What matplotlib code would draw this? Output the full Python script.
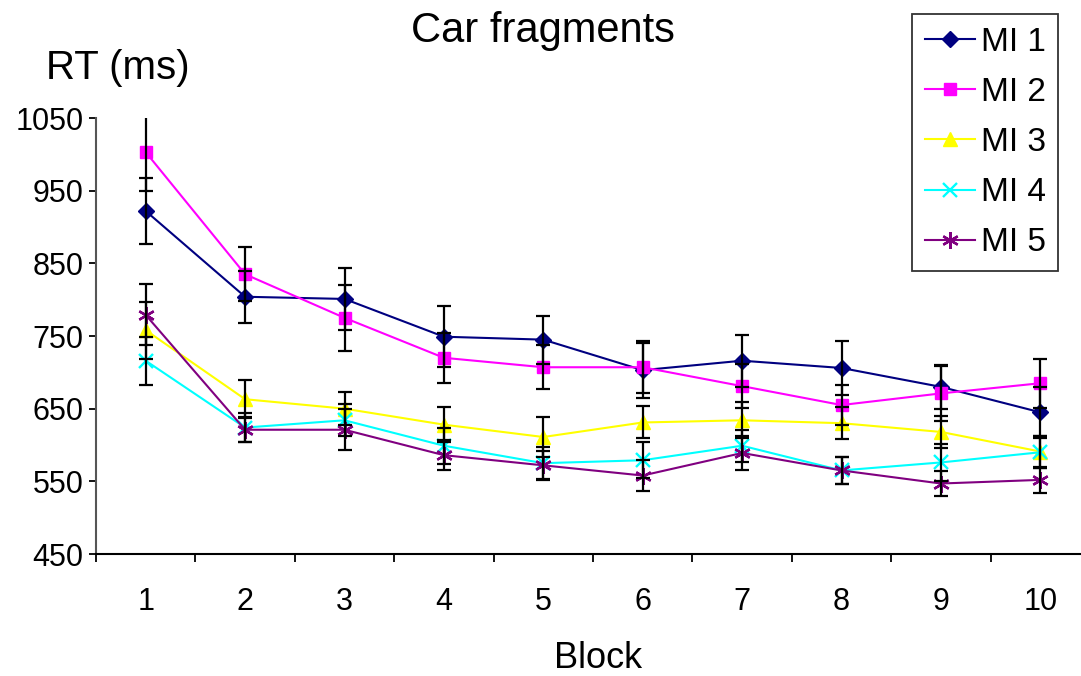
import numpy as np
import matplotlib.pyplot as plt

plt.rcParams['font.family'] = ['Liberation Sans', 'DejaVu Sans']

# data
blocks = [1, 2, 3, 4, 5, 6, 7, 8, 9, 10]
mi1 = [922, 804, 801, 749, 745, 703, 716, 706, 680, 645]
mi2 = [1003, 835, 775, 720, 707, 707, 681, 655, 671, 685]
mi3 = [758, 663, 650, 628, 611, 631, 634, 630, 618, 591]
mi4 = [716, 624, 634, 599, 575, 579, 599, 565, 576, 590]
mi5 = [779, 621, 621, 586, 572, 558, 589, 565, 547, 552]
se1 = [46, 36, 43, 42, 33, 38, 36, 37, 30, 35]
se2 = [53, 37, 45, 34, 30, 36, 30, 28, 38, 34]
se3 = [39, 26, 23, 24, 28, 22, 25, 22, 22, 22]
se4 = [33, 20, 22, 25, 22, 25, 22, 19, 25, 22]
se5 = [42, 17, 28, 21, 20, 21, 23, 18, 17, 18]

names = ['MI 1', 'MI 2', 'MI 3', 'MI 4', 'MI 5']
colors = ['#000080', '#FF00FF', '#FFFF00', '#00FFFF', '#800080']
markers = ['D', 's', '^', 'x', (6, 2, 0)]
sizes = [8.5, 8.5, 10, 10, 12]

fig = plt.figure(figsize=(10.81, 6.76), dpi=100)
ax = fig.add_axes([96 / 1081, 1 - 554 / 676, 994 / 1081, 436 / 676])

for means, se, name, c, m, ms in zip([mi1, mi2, mi3, mi4, mi5], [se1, se2, se3, se4, se5],
                                      names, colors, markers, sizes):
    ax.plot(blocks, means, color=c, marker=m, markersize=ms, lw=1.5,
            markeredgewidth=1.7 if m in ('x', (6, 2, 0)) else 1, label=name, zorder=2)
    ax.errorbar(blocks, means, yerr=se, fmt='none', ecolor='black', elinewidth=1.6,
                capsize=5, capthick=1.6, zorder=3)

ax.set_xlim(0.5, 10.5)
ax.set_ylim(450, 1050)
ax.set_yticks([450, 550, 650, 750, 850, 950, 1050])
ax.set_xticks(blocks)
ax.set_xticks(np.arange(0.5, 11, 1), minor=True)
ax.tick_params(axis='x', which='major', length=0, pad=24, labelsize=22)
ax.tick_params(axis='x', which='minor', length=6, width=1.3)
ax.tick_params(axis='y', length=5, width=1.3, pad=4, labelsize=22)
ax.spines['top'].set_visible(False)
ax.spines['right'].set_visible(False)
ax.spines['left'].set_color('#555555')
ax.spines['left'].set_linewidth(1.5)
ax.spines['bottom'].set_linewidth(1.5)

fig.text(543 / 1081, 1 - 31 / 676, 'Car fragments', ha='center', va='center', fontsize=30)
fig.text(118 / 1081, 1 - 68 / 676, 'RT (ms)', ha='center', va='center', fontsize=29)
fig.text(598 / 1081, 1 - 658 / 676, 'Block', ha='center', va='center', fontsize=26)

leg = fig.legend(loc='upper left', bbox_to_anchor=(912 / 1081, 1 - 14 / 676), fontsize=24,
                 frameon=True, fancybox=False, edgecolor='black', handlelength=1.5,
                 handletextpad=0.18, labelspacing=0.575, borderpad=0.38, borderaxespad=0)
leg.get_frame().set_linewidth(1.3)

fig.savefig('out.png', dpi=100)
